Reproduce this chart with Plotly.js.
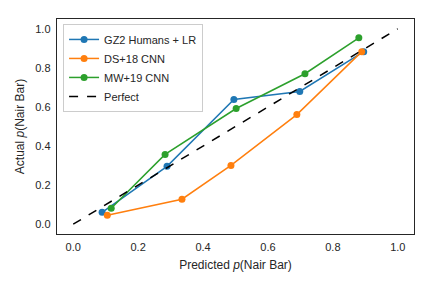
<!DOCTYPE html>
<html>
<head>
<meta charset="utf-8">
<script src="https://cdn.plot.ly/plotly-3.0.1.min.js"></script>
<style>html,body{margin:0;padding:0;background:#fff;}#chart{width:432px;height:288px;}</style>
</head>
<body>
<div id="chart"></div>
<script>
const seriesNames = ["GZ2 Humans + LR", "DS+18 CNN", "MW+19 CNN"];
const gz2X = [0.089, 0.289, 0.495, 0.698, 0.895];
const gz2Y = [0.061, 0.296, 0.638, 0.679, 0.883];
const ds18X = [0.105, 0.335, 0.486, 0.689, 0.889];
const ds18Y = [0.046, 0.128, 0.301, 0.561, 0.883];
const mw19X = [0.117, 0.283, 0.502, 0.714, 0.880];
const mw19Y = [0.082, 0.357, 0.592, 0.770, 0.954];
const perfectX = [0, 1];
const perfectY = [0, 1];
const tickVals = [0, 0.2, 0.4, 0.6, 0.8, 1.0];
const tickText = ["0.0", "0.2", "0.4", "0.6", "0.8", "1.0"];
const colors = ["#1f77b4", "#ff7f0e", "#2ca02c"];

const xs = [gz2X, ds18X, mw19X];
const ys = [gz2Y, ds18Y, mw19Y];
const traces = seriesNames.map((n, i) => ({
  x: xs[i], y: ys[i], name: n, type: "scatter", mode: "lines+markers",
  line: {color: colors[i], width: 1.5},
  marker: {color: colors[i], size: 7}
}));
traces.push({
  x: perfectX, y: perfectY, name: "Perfect", type: "scatter", mode: "lines",
  line: {color: "black", width: 1.5, dash: "dash"}
});

const fam = "Liberation Sans, Arial, sans-serif";
const tickFont = {family: fam, size: 11, color: "#262626"};
const titleFont = {family: fam, size: 12, color: "#262626"};
const axisCommon = {
  range: [-0.05, 1.05], tickvals: tickVals, ticktext: tickText,
  showgrid: false, zeroline: false, showline: true, mirror: true,
  linecolor: "#262626", linewidth: 1.25, ticks: "", tickfont: tickFont,
  ticklabelstandoff: 3
};
const layout = {
  width: 432, height: 288,
  margin: {l: 57, r: 18, t: 19, b: 54},
  paper_bgcolor: "white", plot_bgcolor: "white",
  font: tickFont,
  showlegend: true,
  legend: {x: 0.017, y: 0.977, xanchor: "left", yanchor: "top",
    bordercolor: "#cccccc", borderwidth: 1, bgcolor: "rgba(255,255,255,0.8)",
    font: {family: fam, size: 11, color: "#262626"}, tracegroupgap: 0},
  xaxis: Object.assign({}, axisCommon, {
    title: {text: "Predicted <i>p</i>(Nair Bar)", font: titleFont, standoff: 8}
  }),
  yaxis: Object.assign({}, axisCommon, {
    title: {text: "Actual <i>p</i>(Nair Bar)", font: titleFont, standoff: 8}
  })
};
Plotly.newPlot("chart", traces, layout, {displayModeBar: false, staticPlot: true});
</script>
</body>
</html>
